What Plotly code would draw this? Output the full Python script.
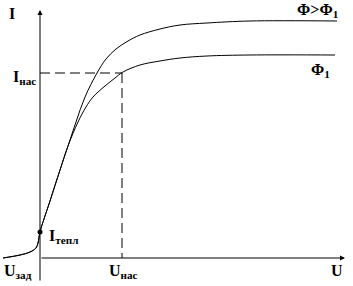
import plotly.graph_objects as go

# Shared low part of both characteristics (U, I in arbitrary units)
u_common = [-37, -20, -10, -4, -2, 0, 10, 20, 28]
i_common = [0, 3, 6, 10, 15, 26, 57, 88, 112]

# Phi > Phi1 (upper curve)
u_high = [36, 45, 57, 66, 76, 88, 100, 120, 140, 167, 210, 297]
i_high = [136, 161, 185, 199, 209, 217, 223, 229, 233, 235, 237, 237]

# Phi1 (lower curve)
u_low = [38, 46, 53, 65, 75, 83, 100, 120, 140, 167, 210, 295]
i_low = [136, 151, 161, 172, 180, 186, 193, 197, 200, 202, 203, 203]

u_sat = 82      # U_нас
i_sat = 185     # I_нас
i_therm = 26    # I_тепл

FONT = "Liberation Serif"

fig = go.Figure()
line = dict(color="black", width=1, shape="spline", smoothing=1.0)
fig.add_trace(go.Scatter(x=u_common + u_high, y=i_common + i_high, mode="lines", line=line, hoverinfo="skip"))
fig.add_trace(go.Scatter(x=u_common + u_low, y=i_common + i_low, mode="lines", line=line, hoverinfo="skip"))

# dashed saturation guides
dash = dict(color="black", width=1, dash="10px,5px")
fig.add_trace(go.Scatter(x=[0, u_sat], y=[i_sat, i_sat], mode="lines", line=dash, hoverinfo="skip"))
fig.add_trace(go.Scatter(x=[u_sat, u_sat], y=[i_sat, 0], mode="lines", line=dash, hoverinfo="skip"))

# thermal current point
fig.add_trace(go.Scatter(x=[0], y=[i_therm], mode="markers", marker=dict(color="black", size=5), hoverinfo="skip"))

# axes with arrows
fig.add_annotation(x=305, y=0, ax=0, ay=0, xref="x", yref="y", axref="x", ayref="y",
                   showarrow=True, arrowhead=2, arrowsize=1, arrowwidth=1, arrowcolor="black", text="")
fig.add_annotation(x=0, y=248, ax=0, ay=-24, xref="x", yref="y", axref="x", ayref="y",
                   showarrow=True, arrowhead=2, arrowsize=1, arrowwidth=1, arrowcolor="black", text="")

def label(text, x, y, size=16):
    fig.add_annotation(x=x, y=y, xref="x", yref="y", text=text, showarrow=False,
                       font=dict(family=FONT, size=size, color="black"))

label("<b>I</b>", -28, 245)
label("<b>I<sub>нас</sub></b>", -16, 181)
label("<b>I<sub>тепл</sub></b>", 23, 22)
label("<b>U<sub>зад</sub></b>", -22, -13)
label("<b>U<sub>нас</sub></b>", 83, -13)
label("<b>U</b>", 297, -12)
label("<b>Φ>Φ<sub>1</sub></b>", 278, 248)
label("<b>Φ<sub>1</sub></b>", 280, 188)

fig.update_xaxes(visible=False, range=[-40, 313], fixedrange=True)
fig.update_yaxes(visible=False, range=[-28, 258], fixedrange=True)
fig.update_layout(width=353, height=286, margin=dict(l=0, r=0, t=0, b=0),
                  plot_bgcolor="white", paper_bgcolor="white", showlegend=False)

fig.write_html("out.html", config={"displayModeBar": False})
